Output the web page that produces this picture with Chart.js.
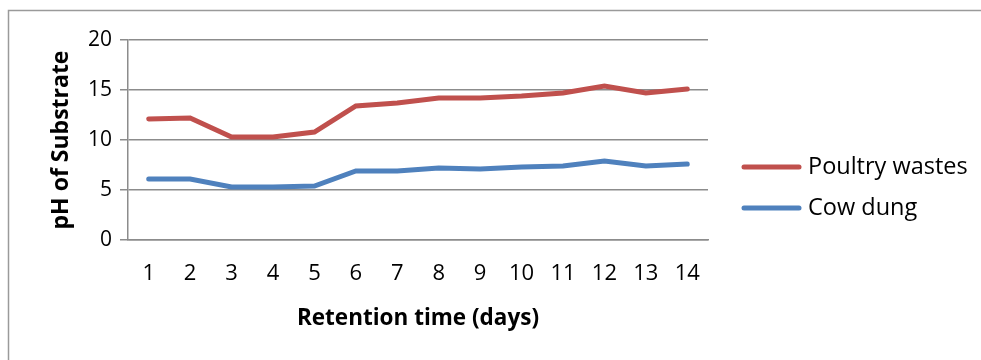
<!DOCTYPE html>
<html>
<head>
<meta charset="utf-8">
<script src="https://cdn.jsdelivr.net/npm/chart.js@4/dist/chart.umd.min.js"></script>
<style>
  html, body { margin: 0; padding: 0; background: #fff; }
  #wrap { width: 981px; height: 360px; }
</style>
</head>
<body>
<div id="wrap"><canvas id="phChart" width="981" height="360"></canvas></div>
<script>
const days = ['1', '2', '3', '4', '5', '6', '7', '8', '9', '10', '11', '12', '13', '14'];
const poultryWastes = [12.1, 12.2, 10.3, 10.3, 10.8, 13.4, 13.7, 14.2, 14.2, 14.4, 14.7, 15.4, 14.7, 15.1];
const cowDung = [6.1, 6.1, 5.3, 5.3, 5.4, 6.9, 6.9, 7.2, 7.1, 7.3, 7.4, 7.9, 7.4, 7.6];
const yTicks = [0, 5, 10, 15, 20];

const FONT = "'Open Sans', 'Liberation Sans', sans-serif";
const GRID = '#8c8c8c';

// outer frame plus a hand-drawn legend on the right
const framePlugin = {
    id: 'frame',
    beforeDraw(chart) {
        const ctx = chart.ctx;
        ctx.save();
        ctx.fillStyle = '#fff';
        ctx.fillRect(0, 0, chart.width, chart.height);
        ctx.strokeStyle = '#9a9a9a';
        ctx.lineWidth = 1.5;
        ctx.strokeRect(8.5, 10.5, 1000, 400);
        ctx.restore();
    },
    afterDraw(chart) {
        const ctx = chart.ctx;
        ctx.save();
        ctx.font = '23.5px ' + FONT;
        ctx.textBaseline = 'middle';
        chart.data.datasets.forEach((ds, i) => {
            const y = 167 + i * 41;
            ctx.strokeStyle = ds.borderColor;
            ctx.lineWidth = 5;
            ctx.lineCap = 'round';
            ctx.beginPath();
            ctx.moveTo(744, y);
            ctx.lineTo(799, y);
            ctx.stroke();
            ctx.fillStyle = '#000';
            ctx.fillText(ds.label, 808, y);
        });
        ctx.restore();
    },
};

new Chart(document.getElementById('phChart'), {
    type: 'line',
    data: {
        labels: days,
        datasets: [
            {
                label: 'Poultry wastes',
                data: poultryWastes,
                borderColor: '#c0504d',
                borderWidth: 5,
                borderCapStyle: 'round',
                pointRadius: 0,
                tension: 0,
            },
            {
                label: 'Cow dung',
                data: cowDung,
                borderColor: '#4f81bd',
                borderWidth: 5,
                borderCapStyle: 'round',
                pointRadius: 0,
                tension: 0,
            },
        ],
    },
    options: {
        responsive: false,
        animation: false,
        layout: {
            padding: { left: 48, right: 273, top: 40, bottom: 20 },
        },
        plugins: {
            legend: { display: false },
            tooltip: { enabled: false },
        },
        scales: {
            x: {
                offset: true,
                grid: { display: true, drawOnChartArea: false, drawTicks: false },
                border: { display: true, color: GRID, width: 1.5 },
                ticks: { color: '#000', padding: 21, font: { family: FONT, size: 22 }, maxRotation: 0 },
                title: {
                    display: true,
                    text: 'Retention time (days)',
                    color: '#000',
                    font: { family: FONT, size: 22.5, weight: 'bold' },
                    padding: { top: 0, bottom: 8 },
                },
                afterFit(scale) { scale.height = 100; },
            },
            y: {
                min: 0,
                max: 20,
                afterBuildTicks(scale) { scale.ticks = yTicks.map((v) => ({ value: v })); },
                grid: { color: GRID, lineWidth: 1.5, tickLength: 8 },
                border: { display: true, color: GRID, width: 1.5 },
                ticks: { color: '#000', padding: 8, font: { family: FONT, size: 21 } },
                title: {
                    display: true,
                    text: 'pH of Substrate',
                    color: '#000',
                    font: { family: FONT, size: 23, weight: 'bold' },
                    padding: { top: 0, bottom: 0 },
                },
                afterFit(scale) { scale.width = 80; },
            },
        },
    },
    plugins: [framePlugin],
});
</script>
</body>
</html>
